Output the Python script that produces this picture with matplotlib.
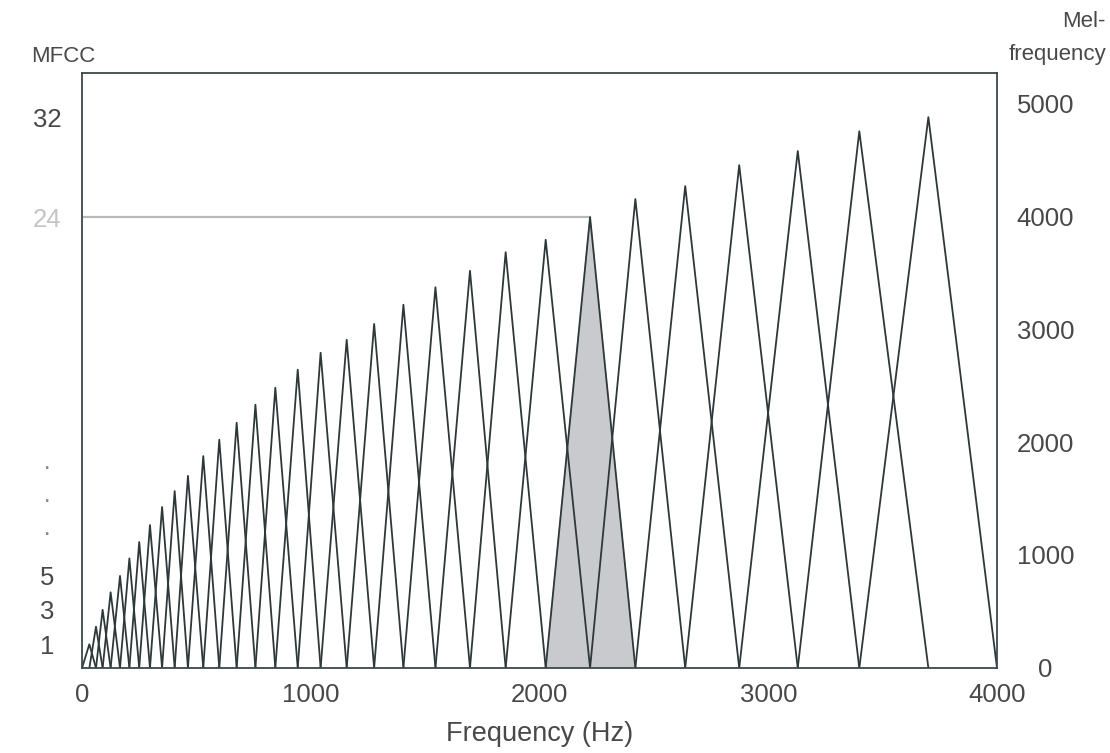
import matplotlib
matplotlib.use("Agg")
import matplotlib.pyplot as plt

plt.rcParams['font.family'] = ['Liberation Sans', 'DejaVu Sans']

# filter centre frequencies (Hz) and peak heights (mel)
centers_hz = [32, 61, 90, 125, 166, 207, 250, 297, 350, 405, 463, 530, 600, 676,
              758, 845, 943, 1043, 1157, 1277, 1405, 1545, 1696, 1852, 2027, 2221,
              2419, 2637, 2873, 3129, 3398, 3700]
peaks_mel = [210, 365, 515, 670, 815, 970, 1115, 1265, 1425, 1565, 1700, 1875,
             2020, 2170, 2330, 2480, 2640, 2790, 2905, 3045, 3215, 3370, 3515,
             3680, 3790, 3990, 4150, 4265, 4450, 4575, 4750, 4875]
shaded = 25  # index of the highlighted filter

x_ticks = [0, 1000, 2000, 3000, 4000]
mel_ticks = [0, 1000, 2000, 3000, 4000, 5000]
# left labels and the heights they sit at
mfcc_ticks = [peaks_mel[0], peaks_mel[2], peaks_mel[4], 1212, 1496, 1788,
              peaks_mel[shaded], peaks_mel[31]]
mfcc_labels = ['1', '3', '5', '·', '·', '·', '24', '32']

line_c = '#2e3838'
text_c = '#484848'
fs = 18.5

fig = plt.figure(figsize=(11.1, 7.53), dpi=100)
ax = fig.add_axes([0.0739, 0.1129, 0.8243, 0.7902])

edges = [0] + centers_hz + [4000]
for k, pk in enumerate(peaks_mel):
    xs = [edges[k], edges[k + 1], edges[k + 2]]
    ys = [0, pk, 0]
    if k == shaded:
        ax.fill(xs, ys, color='#c9cacd', zorder=1)
    ax.plot(xs, ys, color=line_c, lw=1.3, zorder=2)

# guide line to the highlighted filter
ax.plot([0, centers_hz[shaded]], [peaks_mel[shaded]] * 2, color='#b8b8b8', lw=1.6, zorder=1)

ax.set_xlim(0, 4000)
ax.set_ylim(0, 5266)
for s in ax.spines.values():
    s.set_color('#3c4848')
    s.set_linewidth(1.3)

ax.set_xticks(x_ticks)
ax.set_xticklabels([str(v) for v in x_ticks])
ax.tick_params(axis='x', length=0, pad=11, labelsize=fs, labelcolor=text_c)
ax.set_xlabel('Frequency (Hz)', fontsize=19.5, color=text_c, labelpad=10)

ax.set_yticks(mfcc_ticks)
ax.set_yticklabels(mfcc_labels)
ax.tick_params(axis='y', length=0, pad=25, labelsize=fs, labelcolor=text_c)
for lab in ax.get_yticklabels():
    lab.set_horizontalalignment('center')
    if lab.get_text() == '24':
        lab.set_color('#c4c4c4')
    if lab.get_text() == '·':
        lab.set_color('#888888')

ax2 = ax.twinx()
ax2.set_ylim(ax.get_ylim())
ax2.set_yticks(mel_ticks)
ax2.set_yticklabels([str(v) for v in mel_ticks])
ax2.tick_params(axis='y', length=0, pad=35, labelsize=fs, labelcolor=text_c)
for lab in ax2.get_yticklabels():
    lab.set_horizontalalignment('center')
for s in ax2.spines.values():
    s.set_visible(False)

fig.text(63 / 1110, 1 - 57 / 753, 'MFCC', ha='center', va='center', fontsize=16, color=text_c)
fig.text(1106 / 1110, 1 - 38 / 753, 'Mel-\nfrequency', ha='right', va='center',
         multialignment='right', fontsize=16, color=text_c, linespacing=1.75)

fig.savefig('out.png', dpi=100)
